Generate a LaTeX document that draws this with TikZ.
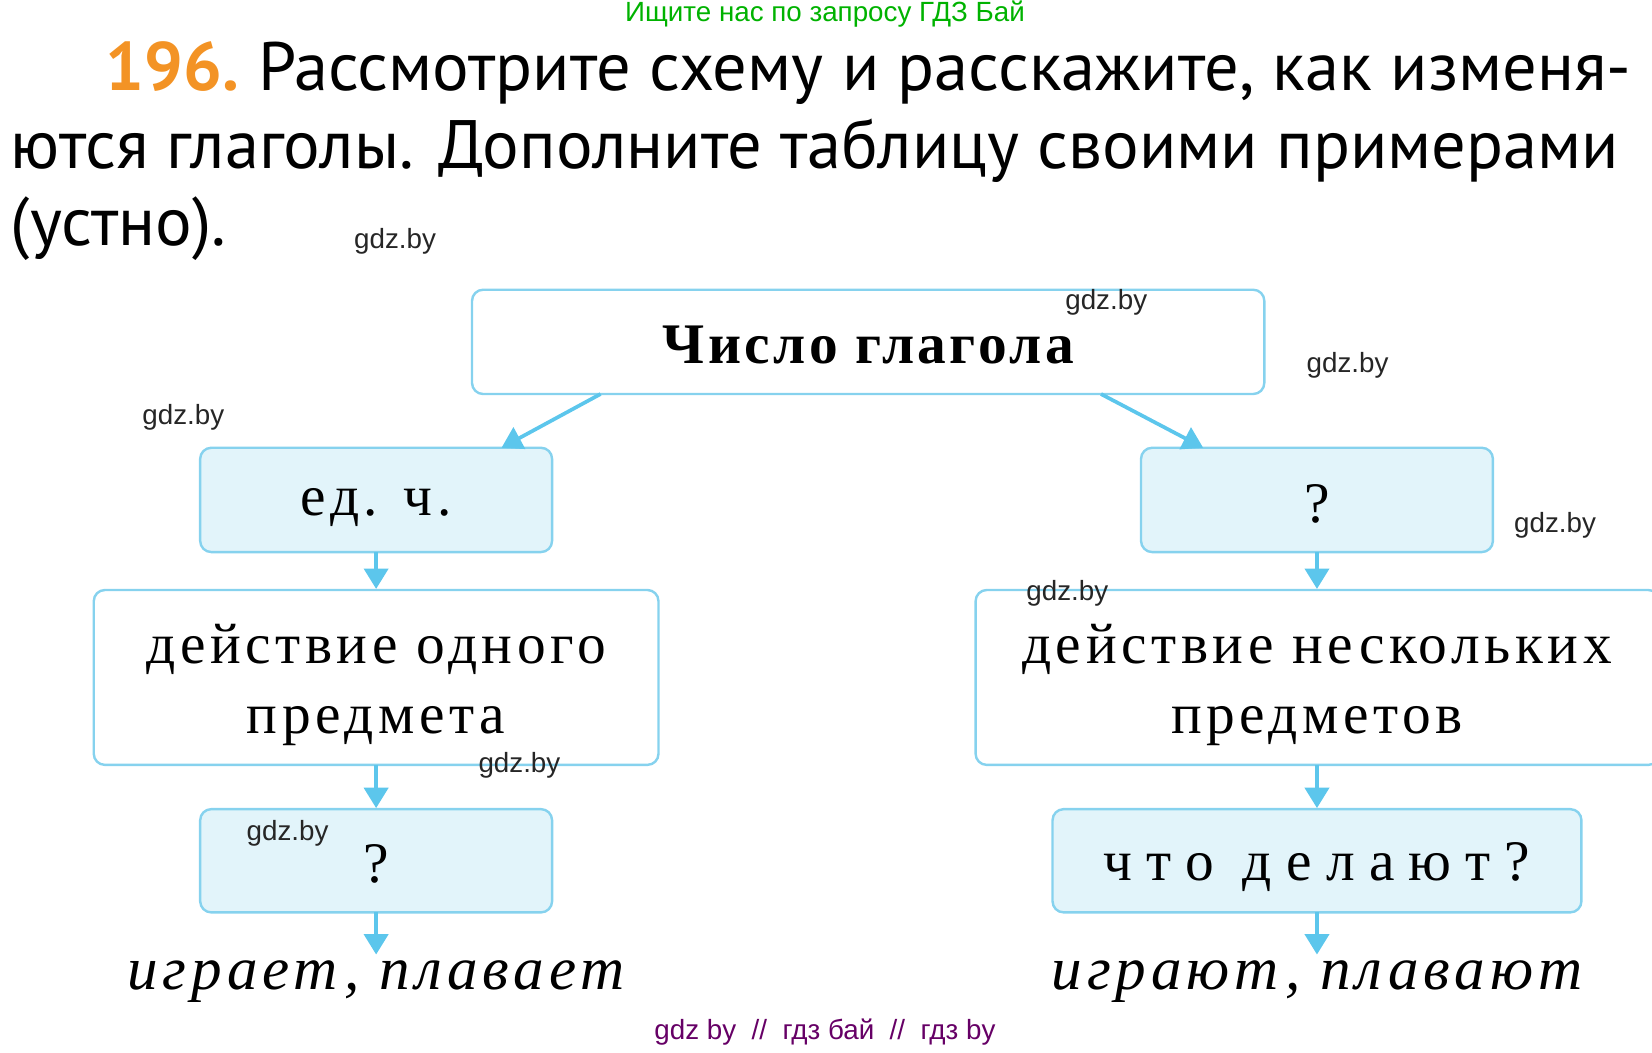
\documentclass[tikz,border=0pt]{standalone}
\usepackage{fontspec}
\setmainfont{Liberation Serif}
\newfontfamily\hdr{PT Sans}
\newfontfamily\wm{Liberation Sans}
\newfontfamily\boxf[LetterSpace=8]{Liberation Serif}
\newfontfamily\boxw[LetterSpace=25]{Liberation Serif}
\newfontfamily\boxb[LetterSpace=6]{Liberation Serif}
\usetikzlibrary{arrows.meta}
\definecolor{bord}{HTML}{86D2EE}
\definecolor{fillb}{HTML}{E2F4FA}
\definecolor{arr}{HTML}{5CC6EC}
\definecolor{org}{HTML}{F39325}
\tikzset{
 bx/.style={draw=bord,line width=1.3pt,rounded corners=6pt},
 fb/.style={bx,fill=fillb},
 ar/.style={draw=arr,line width=2pt,-{Triangle[length=11pt,width=13pt]}},
 wmk/.style={font=\wm\fontsize{15}{18}\selectfont,text=black!85},
 btxt/.style={font=\boxf\fontsize{31}{38}\selectfont,align=center},
 itxt/.style={font=\boxf\itshape\fontsize{33}{38}\selectfont}
}
\begin{document}
\begin{tikzpicture}[x=0.02cm,y=-0.02cm]
\useasboundingbox (0,0) rectangle (1568,999);
\node[text=green!70!black,font=\wm\fontsize{15}{18}\selectfont] (top) at (783,13) {Ищите нас по запросу ГДЗ Бай};
\node[anchor=base west,inner sep=0,font=\hdr\bfseries\fontsize{37}{41}\selectfont,text=org] (num) at (100,86) {196.};
\node[anchor=base west,inner sep=0,font=\hdr\fontsize{37}{41}\selectfont] (l1) at (245,86) {Рассмотрите схему и расскажите, как изменя-};
\node[anchor=base west,inner sep=0,font=\hdr\fontsize{37}{41}\selectfont] (l2) at (10,160) {ются глаголы. Дополните таблицу своими примерами};
\node[anchor=base west,inner sep=0,font=\hdr\fontsize{37}{41}\selectfont] (l3) at (10,233) {(устно).};

\draw[bx] (448,275) rectangle (1200,374);
\node[font=\boxb\bfseries\fontsize{31}{36}\selectfont] (t) at (824,327) {Число глагола};
\draw[fb] (190,425) rectangle (524,524);
\node[btxt] (ed) at (357,482) {ед. ч.};
\draw[fb] (1083,425) rectangle (1417,524);
\node[btxt] (q1) at (1250,478) {?};
\draw[bx] (89,560) rectangle (625,726);
\node[btxt] (d1) at (357,650) {действие одного\\предмета};
\draw[bx] (926,560) rectangle (1575,726);
\node[btxt] (d2) at (1250,650) {действие нескольких\\предметов};
\draw[fb] (190,768) rectangle (524,866);
\node[btxt] (q2) at (357,820) {?};
\draw[fb] (999,768) rectangle (1501,866);
\node[font=\boxw\fontsize{31}{38}\selectfont] (w) at (1250,823) {что делают?};
\node[itxt] (e1) at (357,932) {играет, плавает};
\node[itxt] (e2) at (1250,932) {играют, плавают};

\coordinate (a1) at (570,374); \coordinate (b1) at (476,425);
\coordinate (a2) at (1045,374); \coordinate (b2) at (1142,425);
\draw[ar] (a1) -- (b1);
\draw[ar] (a2) -- (b2);
\foreach \x in {357,1250}{
 \draw[ar] (\x,524) -- (\x,559);
 \draw[ar] (\x,726) -- (\x,767);
 \draw[ar] (\x,866) -- (\x,906);
}
\node[wmk] (g1) at (375,229) {gdz.by};
\node[wmk] (g2) at (1050,287) {gdz.by};
\node[wmk] (g3) at (1279,347) {gdz.by};
\node[wmk] (g4) at (174,396) {gdz.by};
\node[wmk] (g5) at (1476,499) {gdz.by};
\node[wmk] (g6) at (1013,563) {gdz.by};
\node[wmk] (g7) at (493,726) {gdz.by};
\node[wmk] (g8) at (273,791) {gdz.by};
\node[text=violet!80!black,font=\wm\fontsize{15}{18}\selectfont] (bot) at (783,980) {gdz by \ // \ гдз бай \ // \ гдз by};
\end{tikzpicture}
\end{document}
